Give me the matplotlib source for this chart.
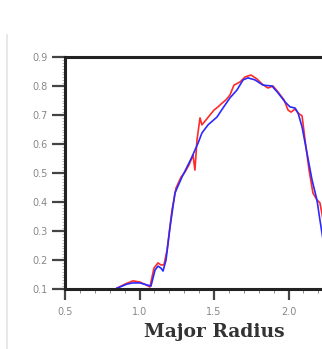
import matplotlib
matplotlib.use('agg')
import matplotlib.pyplot as plt
from matplotlib.lines import Line2D
from matplotlib.ticker import MultipleLocator, FixedLocator, FormatStrFormatter


# smooth fit (blue)
fit_r = [0.849, 0.869, 0.916, 0.956, 1.003, 1.050, 1.077, 1.104, 1.124, 1.144,
         1.158, 1.178, 1.205, 1.238, 1.285, 1.319, 1.352, 1.372, 1.393, 1.419,
         1.460, 1.520, 1.560, 1.607, 1.654, 1.695, 1.728, 1.775, 1.829, 1.889,
         1.930, 1.977, 2.010, 2.044, 2.064, 2.091, 2.124, 2.158, 2.191, 2.211,
         2.232]
fit_v = [0.103, 0.107, 0.117, 0.121, 0.121, 0.114, 0.110, 0.165, 0.179, 0.172,
         0.162, 0.200, 0.314, 0.431, 0.486, 0.521, 0.555, 0.579, 0.603, 0.638,
         0.666, 0.693, 0.724, 0.759, 0.786, 0.821, 0.828, 0.821, 0.803, 0.800,
         0.776, 0.745, 0.728, 0.724, 0.707, 0.659, 0.569, 0.476, 0.407, 0.338,
         0.269]

# measured profile (red)
meas_r = [0.849, 0.903, 0.956, 1.003, 1.044, 1.070, 1.097, 1.124, 1.144, 1.164,
          1.185, 1.218, 1.245, 1.279, 1.305, 1.332, 1.359, 1.372, 1.386, 1.406,
          1.419, 1.446, 1.473, 1.500, 1.527, 1.554, 1.580, 1.607, 1.634, 1.675,
          1.708, 1.748, 1.789, 1.822, 1.862, 1.896, 1.930, 1.970, 1.997, 2.017,
          2.044, 2.064, 2.091, 2.111, 2.138, 2.164, 2.191, 2.211, 2.232]
meas_v = [0.103, 0.117, 0.128, 0.124, 0.114, 0.107, 0.172, 0.190, 0.183, 0.183,
          0.234, 0.372, 0.448, 0.486, 0.503, 0.528, 0.562, 0.510, 0.614, 0.690,
          0.666, 0.683, 0.700, 0.717, 0.728, 0.741, 0.752, 0.769, 0.803, 0.814,
          0.831, 0.838, 0.824, 0.807, 0.793, 0.800, 0.779, 0.752, 0.717, 0.710,
          0.721, 0.707, 0.697, 0.614, 0.510, 0.431, 0.407, 0.397, 0.338]

x_ticks = [0.5, 1.0, 1.5, 2.0]
XLABEL = 'Major Radius'


fig = plt.figure(figsize=(3.22, 3.49), dpi=100)
fig.add_artist(Line2D([7 / 322, 7 / 322], [0, 1 - 35 / 349], color='#e4e4e4', linewidth=1.2))

# axes runs past the right edge of the picture, as in the source
ax = fig.add_axes([65 / 322, 60 / 349, 298 / 322, 232 / 349])
ax.plot(meas_r, meas_v, color='#ff2a2a', linewidth=1.2)
ax.plot(fit_r, fit_v, color='#2a2aff', linewidth=1.2)

ax.set_xlim(0.5, 2.5)
ax.set_ylim(0.1, 0.9)
ax.xaxis.set_major_locator(FixedLocator(x_ticks))
ax.xaxis.set_minor_locator(MultipleLocator(0.1))
ax.yaxis.set_major_locator(MultipleLocator(0.1))
ax.yaxis.set_minor_locator(MultipleLocator(0.01))
ax.xaxis.set_major_formatter(FormatStrFormatter('%.1f'))
ax.yaxis.set_major_formatter(FormatStrFormatter('%.1f'))

for edge in ('top', 'right', 'bottom', 'left'):
    ax.spines[edge].set_linewidth(2.2)
    ax.spines[edge].set_color('#222222')

ax.tick_params(axis='y', which='major', direction='out', length=9.5, width=1.6,
               color='#444444', labelsize=7, labelcolor='#888888', pad=3)
ax.tick_params(axis='y', which='minor', direction='out', length=2.5, width=0.6, color='#aaaaaa')
ax.tick_params(axis='x', which='major', direction='out', length=8, width=1.6,
               color='#444444', labelsize=7, labelcolor='#888888', pad=5)
ax.tick_params(axis='x', which='minor', direction='out', length=3, width=0.7, color='#888888')

ax.set_xlabel(XLABEL, family='DejaVu Serif', fontweight='bold', fontsize=13.5,
              color='#333333', labelpad=4)

fig.savefig('out.png', dpi=100)
